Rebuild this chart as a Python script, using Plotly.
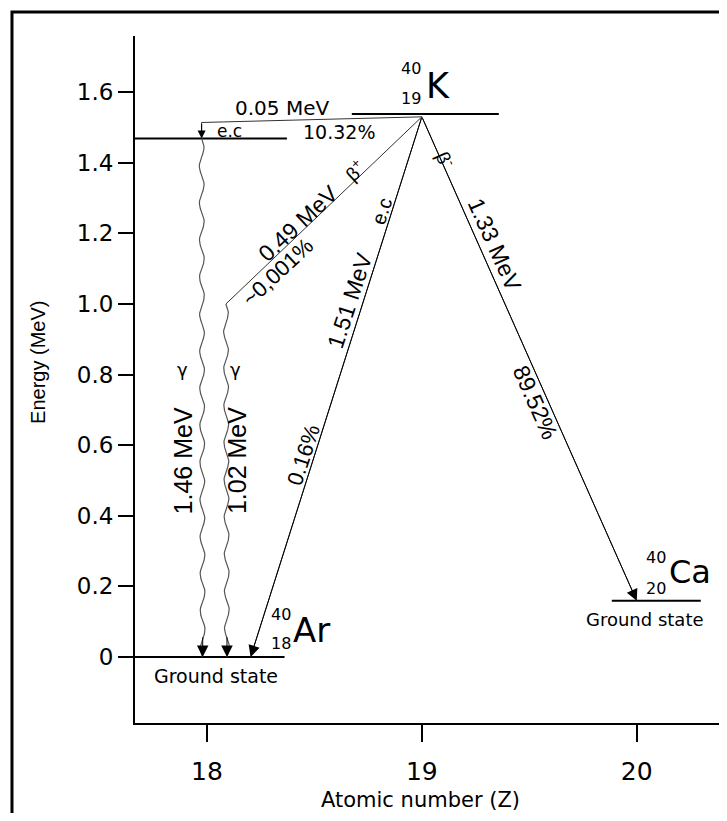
import numpy as np
import plotly.graph_objects as go

# ---------------- axes ----------------
x_ticks = [18, 19, 20]
x_tick_text = ["18", "19", "20"]
y_ticks = [0, 0.2, 0.4, 0.6, 0.8, 1.0, 1.2, 1.4, 1.6]
y_tick_text = ["0", "0.2", "0.4", "0.6", "0.8", "1.0", "1.2", "1.4", "1.6"]
x_range = [17.665, 20.42]
y_range = [-0.187, 1.759]

# ---------------- energy levels (Z start, Z end, energy in MeV) ----------------
level_z_start = [18.674, 17.665, 17.665, 19.884]
level_z_end = [19.358, 18.372, 18.361, 20.298]
level_energy = [1.538, 1.469, 0.0, 0.159]

# ---------------- straight transitions from 40K ----------------
# beta-, e.c (1.51 MeV), beta+ (0.49 MeV), e.c (0.05 MeV)
trans_z_from = [19.0, 19.0, 19.0, 19.0]
trans_e_from = [1.53, 1.53, 1.53, 1.53]
trans_z_to = [20.0, 18.203, 18.088, 17.975]
trans_e_to = [0.159, 0.0, 1.0, 1.514]
trans_arrow = [True, True, False, False]

# short drop of the 0.05 MeV e.c onto the 1.46 MeV level
drop_z = [17.975, 17.975]
drop_e = [1.514, 1.469]

# ---------------- gamma transitions (wavy) ----------------
gamma_z_top = [17.975, 18.088]
gamma_e_top = [1.469, 1.0]
gamma_z_bottom = [17.98, 18.093]
gamma_e_bottom = [0.0, 0.0]

# ---------------- text labels ----------------
# (text, Z, E, angle, size, family)
H = "DejaVu Sans"
R = "Liberation Sans"
labels = [
    ("0.05 MeV", 18.349, 1.555, 0, 20, H),
    ("10.32%", 18.614, 1.487, 0, 19, H),
    ("e.c", 18.107, 1.490, 0, 17, H),
    ("0.49 MeV", 18.428, 1.228, -43, 23, R),
    ("β<sup>+</sup>", 18.688, 1.380, -43, 19, R),
    ("~0,001%", 18.327, 1.09, -43, 22, R),
    ("e.c", 18.815, 1.262, -72, 20, R),
    ("1.51 MeV", 18.665, 1.011, -72, 23, R),
    ("0.16%", 18.447, 0.572, -72, 22, R),
    ("β<sup>-</sup>", 19.11, 1.41, 66, 19, R),
    ("1.33 MeV", 19.34, 1.167, 66, 23, R),
    ("89.52%", 19.526, 0.721, 66, 23, R),
    ("γ", 17.888, 0.813, 0, 18, H),
    ("γ", 18.135, 0.813, 0, 18, H),
    ("1.46 MeV", 17.89, 0.555, -90, 25, R),
    ("1.02 MeV", 18.14, 0.555, -90, 25, R),
    ("Ground state", 18.042, -0.054, 0, 19, H),
    ("Ground state", 20.037, 0.105, 0, 18, H),
]

# nuclide labels: symbol, mass number, atomic number and their positions
nuclide_symbol = ["K", "Ar", "Ca"]
nuclide_mass = ["40", "40", "40"]
nuclide_number = ["19", "18", "20"]
nuclide_symbol_z = [19.075, 18.488, 20.247]
nuclide_symbol_e = [1.618, 0.076, 0.241]
nuclide_size = [35, 34, 32]
nuclide_script_z = [18.995, 18.391, 20.135]   # right edge of the 40 / Z scripts
nuclide_mass_e = [1.666, 0.12, 0.283]
nuclide_number_e = [1.582, 0.038, 0.195]

fig = go.Figure()

# levels
for z0, z1, e in zip(level_z_start, level_z_end, level_energy):
    fig.add_trace(go.Scatter(x=[z0, z1], y=[e, e], mode="lines",
                             line=dict(color="black", width=2), hoverinfo="skip"))

# straight transitions
for zf, ef, zt, et, arr in zip(trans_z_from, trans_e_from, trans_z_to, trans_e_to, trans_arrow):
    fig.add_trace(go.Scatter(x=[zf, zt], y=[ef, et], mode="lines",
                             line=dict(color="#333333", width=1), hoverinfo="skip"))
    if arr:
        fig.add_annotation(x=zt, y=et, ax=zf, ay=ef, xref="x", yref="y", axref="x", ayref="y",
                           showarrow=True, arrowhead=2, arrowsize=2.3, arrowwidth=1,
                           arrowcolor="black", text="")

fig.add_trace(go.Scatter(x=drop_z, y=drop_e, mode="lines",
                         line=dict(color="#333333", width=1), hoverinfo="skip"))
fig.add_annotation(x=drop_z[1], y=drop_e[1], ax=drop_z[0], ay=drop_e[0], xref="x", yref="y",
                   axref="x", ayref="y", showarrow=True, arrowhead=2, arrowsize=1.6,
                   arrowwidth=1, arrowcolor="black", text="")

# wavy gamma lines (decorative wave drawn between the two level endpoints)
def wavy(z_top, e_top, z_bot, e_bot, period=0.105, amp=0.011):
    n = 200
    t = np.linspace(0, 1, n)
    e = e_top + (e_bot - e_top) * t
    z = z_top + (z_bot - z_top) * t + amp * np.sin(2 * np.pi * (e_top - e) / period)
    return z, e

for zt, et, zb, eb in zip(gamma_z_top, gamma_e_top, gamma_z_bottom, gamma_e_bottom):
    z, e = wavy(zt, et, zb, eb)
    fig.add_trace(go.Scatter(x=z, y=e, mode="lines",
                             line=dict(color="#555555", width=1.2), hoverinfo="skip"))
    fig.add_annotation(x=zb, y=eb, ax=zb, ay=eb + 0.06, xref="x", yref="y",
                       axref="x", ayref="y", showarrow=True, arrowhead=2, arrowsize=2.3,
                       arrowwidth=1, arrowcolor="black", text="")

# text labels
for text, z, e, ang, size, fam in labels:
    fig.add_annotation(x=z, y=e, xref="x", yref="y", text=text, showarrow=False,
                       textangle=ang, xanchor="center", yanchor="middle",
                       font=dict(family=fam, size=size, color="black"))

# nuclide labels
for i, sym in enumerate(nuclide_symbol):
    fig.add_annotation(x=nuclide_symbol_z[i], y=nuclide_symbol_e[i], xref="x", yref="y",
                       text=sym, showarrow=False, xanchor="center", yanchor="middle",
                       borderpad=0, borderwidth=0,
                       font=dict(family=H, size=nuclide_size[i], color="black"))
    fig.add_annotation(x=nuclide_script_z[i], y=nuclide_mass_e[i], xref="x", yref="y",
                       text=nuclide_mass[i], showarrow=False, xanchor="right", yanchor="middle",
                       borderpad=0, borderwidth=0,
                       font=dict(family=H, size=16, color="black"))
    fig.add_annotation(x=nuclide_script_z[i], y=nuclide_number_e[i], xref="x", yref="y",
                       text=nuclide_number[i], showarrow=False, xanchor="right", yanchor="middle",
                       borderpad=0, borderwidth=0,
                       font=dict(family=H, size=16, color="black"))

# axis titles
fig.add_annotation(x=-0.164, y=0.5255, xref="paper", yref="paper", text="Energy (MeV)",
                   showarrow=False, textangle=-90, xanchor="center", yanchor="middle",
                   font=dict(family=R, size=20, color="black"))
fig.add_annotation(x=0.483, y=-0.112, xref="paper", yref="paper", text="Atomic number (Z)",
                   showarrow=False, xanchor="center", yanchor="middle",
                   font=dict(family=H, size=21, color="black"))

# outer frame
fig.add_shape(type="rect", xref="paper", yref="paper", x0=-0.2078, x1=1.2, y0=-0.4, y1=1.035,
              line=dict(color="black", width=3), fillcolor="rgba(0,0,0,0)", layer="above")

# the page body adds an 8 px margin, so the figure is sized/padded to compensate
fig.update_layout(width=719, height=805, margin=dict(l=127, r=0, t=28, b=90),
                  plot_bgcolor="white", paper_bgcolor="white", showlegend=False)
fig.update_xaxes(range=x_range, tickvals=x_ticks, ticktext=x_tick_text, ticks="outside",
                 ticklen=17, tickwidth=2, tickcolor="black", showline=True, linecolor="black",
                 linewidth=2, showgrid=False, zeroline=False, ticklabelstandoff=8,
                 tickfont=dict(family=H, size=25, color="black"))
fig.update_yaxes(range=y_range, tickvals=y_ticks, ticktext=y_tick_text, ticks="outside",
                 ticklen=15, tickwidth=2, tickcolor="black", showline=True, linecolor="black",
                 linewidth=2, showgrid=False, zeroline=False,
                 tickfont=dict(family=H, size=23, color="black"))

fig.write_html("out.html")
